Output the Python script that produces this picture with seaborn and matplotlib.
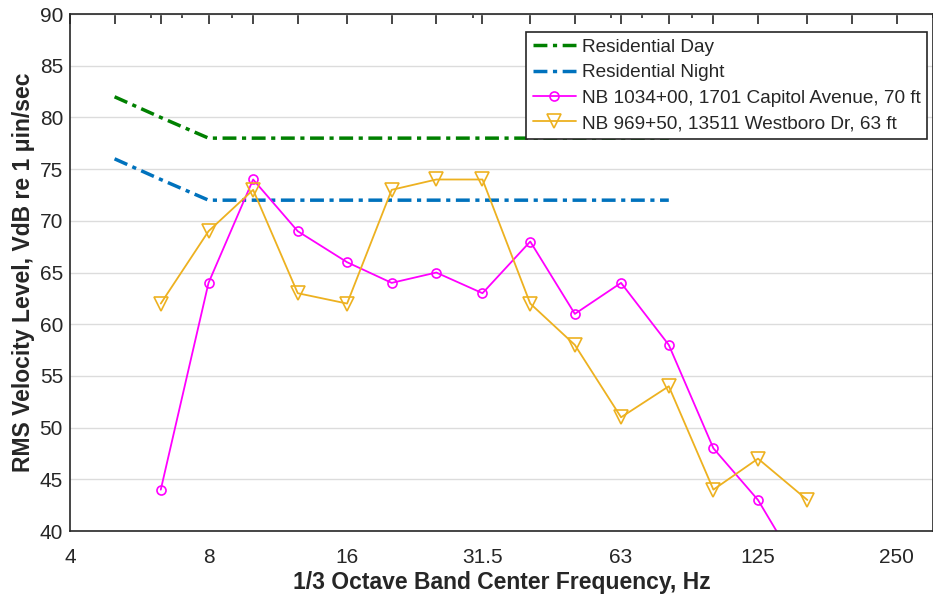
import pandas as pd
import matplotlib.pyplot as plt
import seaborn as sns
from matplotlib.ticker import FixedLocator, NullFormatter

# 1/3 octave band centre frequencies, Hz
limit_freq = [5, 6.3, 8, 10, 12.5, 16, 20, 25, 31.5, 40, 50, 63, 80]
res_day = [82, 80, 78, 78, 78, 78, 78, 78, 78, 78, 78, 78, 78]
res_night = [76, 74, 72, 72, 72, 72, 72, 72, 72, 72, 72, 72, 72]

meas_freq = [6.3, 8, 10, 12.5, 16, 20, 25, 31.5, 40, 50, 63, 80, 100, 125, 160]
capitol = [44, 64, 74, 69, 66, 64, 65, 63, 68, 61, 64, 58, 48, 43, 35]
westboro = [62, 69, 73, 63, 62, 73, 74, 74, 62, 58, 51, 54, 44, 47, 43]

band_ticks = [5, 6.3, 8, 10, 12.5, 16, 20, 25, 31.5, 40, 50, 63, 80, 100, 125, 160, 200, 250]
label_ticks = [4, 8, 16, 31.5, 63, 125, 250]
minor_ticks = [6, 7, 9, 30, 60, 70, 90, 300]

limits = pd.DataFrame({'freq': limit_freq, 'day': res_day, 'night': res_night})
meas = pd.DataFrame({'freq': meas_freq, 'capitol': capitol, 'westboro': westboro})

sns.set_style('white')
plt.rcParams['font.family'] = ['Liberation Sans', 'DejaVu Sans']

fig = plt.figure(figsize=(9.33, 5.99), dpi=100)
ax = fig.add_axes([0.075, 0.1135, 0.925, 0.863])

sns.lineplot(x='freq', y='day', data=limits, ax=ax, color='#008000', lw=2.5,
             label='Residential Day')
sns.lineplot(x='freq', y='night', data=limits, ax=ax, color='#0072BD', lw=2.5,
             label='Residential Night')
sns.lineplot(x='freq', y='capitol', data=meas, ax=ax, color='#FF00FF', lw=1.3,
             marker='o', markersize=6.5, markerfacecolor='none', markeredgecolor='#FF00FF',
             markeredgewidth=1.2, label='NB 1034+00, 1701 Capitol Avenue, 70 ft')
sns.lineplot(x='freq', y='westboro', data=meas, ax=ax, color='#EDB120', lw=1.3,
             marker='v', markersize=10, markerfacecolor='none', markeredgecolor='#EDB120',
             markeredgewidth=1.2, label='NB 969+50, 13511 Westboro Dr, 63 ft')

# MATLAB-style dash-dot for the limit curves
for ln in ax.lines[:2]:
    ln.set_dashes((4, 1.6, 1.2, 1.6))

ax.set_xscale('log', base=2)
ax.set_xlim(4, 300)
ax.set_ylim(40, 90)
ax.set_yticks(range(40, 91, 5))

ticks = sorted(set(band_ticks + label_ticks))
ax.xaxis.set_major_locator(FixedLocator(ticks))
ax.set_xticklabels([(('%g' % t) if t in label_ticks else '') for t in ticks])
ax.xaxis.set_minor_locator(FixedLocator(minor_ticks))
ax.xaxis.set_minor_formatter(NullFormatter())

ax.tick_params(axis='x', which='major', direction='in', length=7, width=1.2,
               top=True, color='#262626', labelsize=15, pad=12, labelcolor='#262626')
ax.tick_params(axis='x', which='minor', direction='in', length=3, width=1.2,
               top=True, color='#262626')
ax.tick_params(axis='y', direction='in', length=0, labelsize=15, pad=5, labelcolor='#262626')

ax.grid(axis='y', color='#dcdcdc', lw=1)
ax.grid(axis='x', visible=False)
for s in ax.spines.values():
    s.set_color('#262626')
    s.set_linewidth(1.2)

ax.set_xlabel('1/3 Octave Band Center Frequency, Hz', fontsize=16.5, fontweight='bold',
              color='#262626', labelpad=3)
ax.set_ylabel('RMS Velocity Level, VdB re 1 μin/sec', fontsize=16.5, fontweight='bold',
              color='#262626', labelpad=3)

leg = ax.legend(loc='upper right', bbox_to_anchor=(0.9935, 0.965), fontsize=13.7,
                frameon=True, fancybox=False, framealpha=1, edgecolor='#262626',
                handlelength=2.3, handletextpad=0.3, borderpad=0.35,
                labelspacing=0.42, borderaxespad=0)
leg.get_frame().set_linewidth(1.2)

plt.savefig('out.png', dpi=100)
